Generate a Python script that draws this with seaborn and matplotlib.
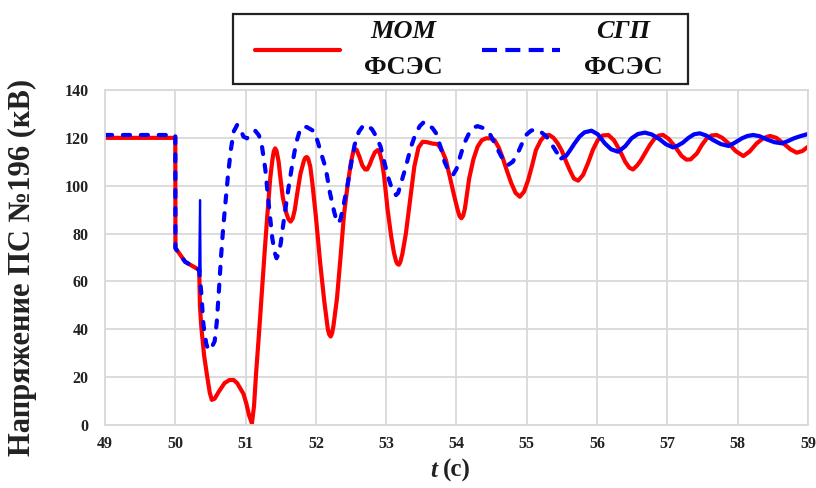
import matplotlib
matplotlib.use("Agg")
import matplotlib.pyplot as plt
import seaborn as sns
from matplotlib.lines import Line2D
from matplotlib.patches import Rectangle

# Bus voltage, kV, for the two models
t_mom = [49.0, 50.0, 50.002, 50.14, 50.34, 50.35, 50.37, 50.41, 50.45, 50.49, 50.52, 50.56,
         50.62, 50.70, 50.77, 50.83, 50.88, 50.93, 50.97, 51.01, 51.05, 51.09, 51.12, 51.15,
         51.19, 51.23, 51.27, 51.31, 51.35, 51.38, 51.40, 51.42, 51.44, 51.47, 51.50, 51.53,
         51.58, 51.61, 51.64, 51.67, 51.70, 51.73, 51.78, 51.83, 51.85, 51.87, 51.89, 51.92,
         51.95, 52.00, 52.06, 52.12, 52.17, 52.19, 52.21, 52.23, 52.25, 52.30, 52.35, 52.40,
         52.45, 52.50, 52.53, 52.55, 52.58, 52.62, 52.66, 52.70, 52.73, 52.76, 52.80, 52.84,
         52.88, 52.91, 52.94, 52.97, 53.02, 53.07, 53.11, 53.14, 53.16, 53.18, 53.20, 53.23,
         53.28, 53.34, 53.40, 53.46, 53.52, 53.58, 53.66, 53.73, 53.79, 53.85, 53.91, 53.97,
         54.02, 54.045, 54.07, 54.095, 54.12, 54.18, 54.24, 54.30, 54.36, 54.42, 54.48, 54.54,
         54.60, 54.66, 54.72, 54.78, 54.84, 54.90, 54.96, 55.02, 55.08, 55.13, 55.20, 55.26,
         55.32, 55.38, 55.44, 55.50, 55.56, 55.61, 55.67, 55.73, 55.80, 55.87, 55.94, 56.01,
         56.08, 56.16, 56.24, 56.32, 56.40, 56.46, 56.51, 56.57, 56.62, 56.68, 56.75, 56.82,
         56.88, 56.94, 57.02, 57.11, 57.20, 57.27, 57.33, 57.42, 57.49, 57.56, 57.63, 57.70,
         57.78, 57.87, 57.97, 58.08, 58.17, 58.27, 58.36, 58.46, 58.55, 58.65, 58.75, 58.84,
         58.92, 59.0]
u_mom = [120.0, 120.0, 74.0, 68.2, 64.8, 50.0, 41.0, 29.0, 21.0, 13.5, 10.5, 11.0,
         14.0, 17.5, 18.8, 18.8, 17.5, 15.0, 13.0, 9.0, 4.0, 0.7, 8.0, 22.0,
         38.0, 55.0, 72.0, 88.0, 103.0, 110.5, 114.3, 115.6, 114.6, 110.0, 102.0, 95.0,
         88.5, 86.0, 85.0, 86.3, 90.0, 96.0, 105.0, 110.5, 111.7, 112.0, 111.3, 108.0,
         101.0, 87.0, 68.0, 51.5, 40.0, 37.8, 37.0, 38.3, 41.5, 53.0, 70.0, 88.0,
         100.0, 110.0, 114.0, 115.4, 115.0, 112.0, 108.5, 106.8, 106.8, 108.5, 111.5, 114.0,
         114.9, 113.5, 110.0, 104.0, 90.0, 79.0, 72.0, 68.5, 67.3, 67.0, 68.0, 71.5,
         80.0, 94.0, 108.0, 116.0, 118.4, 118.2, 117.6, 117.4, 115.0, 110.7, 103.0, 95.4,
         89.5, 87.2, 86.4, 87.5, 90.5, 103.0, 111.0, 116.3, 119.0, 119.8, 119.8, 119.1,
         116.0, 111.4, 106.0, 101.0, 97.0, 95.4, 97.5, 102.4, 109.0, 114.9, 119.0, 121.0,
         121.2, 120.0, 117.7, 114.5, 110.0, 106.6, 103.0, 102.1, 104.5, 109.4, 115.0, 119.1,
         121.0, 121.2, 119.0, 114.9, 110.0, 107.5, 106.8, 108.5, 110.5, 113.5, 117.0, 119.8,
         121.0, 121.2, 119.5, 116.3, 112.5, 110.9, 111.0, 113.5, 117.0, 119.8, 121.0, 121.2,
         120.0, 117.7, 114.5, 112.4, 114.3, 117.7, 119.8, 120.8, 120.0, 117.7, 115.2, 113.8,
         114.5, 116.3]

# СГП model: first 5.5 s (dashed in the figure)
t_sgp_a = [49.0, 50.0, 50.002, 50.14, 50.34, 50.37, 50.40, 50.44, 50.47, 50.51, 50.56, 50.59,
           50.62, 50.65, 50.68, 50.72, 50.75, 50.79, 50.83, 50.88, 50.92, 50.97, 51.02, 51.08,
           51.14, 51.19, 51.23, 51.28, 51.33, 51.38, 51.41, 51.44, 51.47, 51.50, 51.55, 51.61,
           51.67, 51.72, 51.77, 51.81, 51.87, 51.93, 51.98, 52.03, 52.08, 52.14, 52.20, 52.26,
           52.29, 52.32, 52.35, 52.38, 52.45, 52.50, 52.55, 52.61, 52.67, 52.73, 52.80, 52.86,
           52.92, 52.98, 53.04, 53.09, 53.14, 53.17, 53.20, 53.28, 53.35, 53.42, 53.48, 53.54,
           53.60, 53.66, 53.71, 53.77, 53.83, 53.89, 53.95, 54.00, 54.05, 54.11, 54.18, 54.24,
           54.30, 54.38, 54.47, 54.53, 54.59, 54.66, 54.73, 54.80, 54.87, 54.93, 54.99, 55.06,
           55.13, 55.20, 55.28, 55.35, 55.42, 55.49]
u_sgp_a = [121.2, 121.2, 73.8, 68.2, 64.8, 55.0, 42.0, 34.0, 31.3, 32.0, 35.0, 43.0,
           56.0, 70.0, 82.0, 95.0, 104.5, 115.0, 122.6, 125.4, 124.0, 120.5, 119.8, 122.0,
           122.9, 121.0, 117.0, 107.0, 92.0, 78.0, 72.5, 69.7, 71.5, 76.0, 87.0, 99.0,
           110.0, 118.0, 123.0, 124.7, 124.5, 123.5, 122.6, 118.0, 113.0, 107.3, 97.0, 89.1,
           85.8, 84.3, 86.0, 90.0, 100.3, 109.0, 117.0, 122.5, 125.0, 125.4, 123.5, 120.5,
           116.3, 109.0, 102.4, 98.0, 96.1, 97.0, 100.0, 108.0, 116.0, 121.9, 125.0, 126.7,
           125.5, 124.0, 121.9, 116.5, 110.0, 106.0, 104.5, 107.0, 112.0, 117.7, 122.0, 124.3,
           124.9, 124.1, 121.9, 118.5, 114.9, 111.0, 108.6, 110.0, 113.5, 117.5, 121.2, 123.0,
           123.6, 122.5, 120.5, 117.5, 114.2, 111.4]

# СГП model: short spike right after the fault
t_sgp_spike = [50.340, 50.352, 50.360]
u_sgp_spike = [64.8, 94.0, 64.0]

# СГП model: tail of the transient
t_sgp_b = [55.49, 55.56, 55.62, 55.68, 55.75, 55.82, 55.92, 56.01, 56.11, 56.20, 56.30, 56.40,
           56.49, 56.58, 56.68, 56.78, 56.89, 56.98, 57.08, 57.15, 57.22, 57.30, 57.38, 57.46,
           57.55, 57.65, 57.76, 57.87, 57.96, 58.06, 58.14, 58.22, 58.31, 58.41, 58.52, 58.63,
           58.71, 58.80, 58.90, 59.0]
u_sgp_b = [111.4, 112.5, 115.0, 117.7, 120.5, 122.3, 123.0, 121.5, 117.7, 115.2, 114.2, 116.5,
           119.8, 121.6, 122.2, 121.4, 119.4, 117.3, 116.0, 116.8, 118.0, 120.0, 121.5, 121.9,
           121.0, 119.1, 117.4, 116.6, 118.0, 119.8, 120.8, 121.2, 120.7, 119.4, 118.2, 117.7,
           118.6, 119.8, 120.8, 121.6]

x_ticks = list(range(49, 60))
y_ticks = list(range(0, 141, 20))
legend_top = ["МОМ", "СГП"]
legend_bottom = ["ФСЭС", "ФСЭС"]
y_title = "Напряжение ПС №196 (кВ)"

sns.set_theme(style="whitegrid")
plt.rcParams["font.family"] = ["Liberation Serif", "DejaVu Serif"]

W, H = 816, 488
fig = plt.figure(figsize=(W / 100, H / 100), dpi=100)
fig.patch.set_facecolor("white")
ax = fig.add_axes([105 / W, 1 - 425 / H, (808 - 105) / W, (425 - 90) / H])
ax.set_facecolor("white")

RED = "#ff0000"
BLUE = "#0000ff"
LW = 3.0
DASH = (0, (1.7, 2.6))
round_style = dict(solid_joinstyle="round", solid_capstyle="round",
                   dash_joinstyle="round", dash_capstyle="round")

sns.lineplot(x=t_mom, y=u_mom, ax=ax, color=RED, lw=LW, sort=False, estimator=None,
             **round_style)
sns.lineplot(x=t_sgp_spike, y=u_sgp_spike, ax=ax, color=BLUE, lw=1.6, sort=False,
             estimator=None)
sns.lineplot(x=t_sgp_a, y=u_sgp_a, ax=ax, color=BLUE, lw=LW, sort=False, estimator=None,
             linestyle=DASH, **round_style)
sns.lineplot(x=t_sgp_b, y=u_sgp_b, ax=ax, color=BLUE, lw=LW, sort=False, estimator=None,
             **round_style)

ax.set_xlim(49, 59)
ax.set_ylim(0, 140)
ax.set_xticks(x_ticks)
ax.set_yticks(y_ticks)
ax.set_xticklabels([str(v) for v in x_ticks], fontsize=11.5, fontweight="bold", color="#222222")
ax.set_yticklabels([str(v) for v in y_ticks], fontsize=11.5, fontweight="bold", color="#222222")
ax.tick_params(axis="x", length=0, pad=8)
ax.tick_params(axis="y", length=0, pad=12)
ax.grid(True, color="#d9d9d9", lw=1.3)
for s in ax.spines.values():
    s.set_color("#d9d9d9")
    s.set_linewidth(1.3)

ax.set_xlabel("")
ax.set_ylabel(y_title, fontsize=22, fontweight="bold", color="#222222")
ax.yaxis.set_label_coords(-0.097, 0.47)


def fx(px):
    return px / W


def fy(py):
    return 1 - py / H


# axis title t (с)
fig.text(fx(437), fy(477), "t", fontsize=18, fontweight="bold", fontstyle="italic",
         ha="right", va="baseline", color="#222222")
fig.text(fx(443), fy(477), "(с)", fontsize=18, fontweight="bold",
         ha="left", va="baseline", color="#222222")

# legend box
fig.add_artist(Rectangle((fx(233), fy(84)), (688 - 233) / W, (84 - 14) / H,
                         transform=fig.transFigure, facecolor="white",
                         edgecolor="#222222", lw=1.6))
fig.add_artist(Line2D([fx(255), fx(340)], [fy(50), fy(50)], transform=fig.transFigure,
                      color=RED, lw=LW))
fig.add_artist(Line2D([fx(482), fx(560)], [fy(50), fy(50)], transform=fig.transFigure,
                      color=BLUE, lw=LW, linestyle=(0, (3.6, 2.0))))
for cx, top, bottom in zip([403, 623], legend_top, legend_bottom):
    fig.text(fx(cx), fy(32), top, fontsize=19, fontweight="bold", fontstyle="italic",
             ha="center", va="center", color="#111111")
    fig.text(fx(cx), fy(67), bottom, fontsize=19, fontweight="bold",
             ha="center", va="center", color="#111111")

fig.savefig("out.png", dpi=100, facecolor="white")
